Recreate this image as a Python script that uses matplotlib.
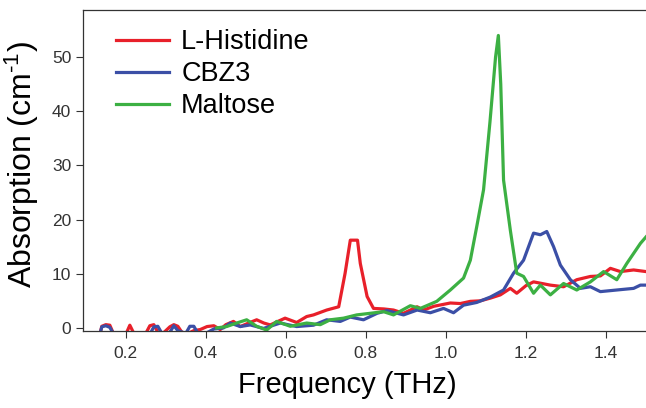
import matplotlib.pyplot as plt

plt.rcParams['font.family'] = ['Liberation Sans', 'DejaVu Sans']
plt.rcParams['mathtext.fontset'] = 'custom'
plt.rcParams['mathtext.rm'] = 'Liberation Sans'
plt.rcParams['mathtext.it'] = 'Liberation Sans:italic'

# L-Histidine
freq_his = [0.135, 0.14, 0.15, 0.16, 0.17, 0.18, 0.2, 0.21, 0.22, 0.23, 0.25, 0.26, 0.27,
            0.28, 0.29, 0.31, 0.32, 0.33, 0.34, 0.35, 0.37, 0.386, 0.403, 0.42, 0.436,
            0.45, 0.469, 0.486, 0.51, 0.527, 0.545, 0.561, 0.58, 0.598, 0.627, 0.652,
            0.669, 0.702, 0.732, 0.748, 0.761, 0.779, 0.786, 0.803, 0.819, 0.845, 0.869,
            0.894, 0.928, 0.944, 0.97, 1.011, 1.036, 1.061, 1.086, 1.111, 1.136, 1.161,
            1.177, 1.2, 1.219, 1.24, 1.261, 1.294, 1.327, 1.361, 1.386, 1.411, 1.436,
            1.469, 1.5]
abs_his = [-1.2, 0.3, 0.6, 0.5, -1.2, -1.5, -1.2, 0.5, -1.0, -1.5, -1.0, 0.4, 0.6, -0.8,
           -1.2, 0.2, 0.6, 0.3, -0.8, -1.2, -0.5, -0.3, 0.25, 0.4, -0.3, 0.6, 1.2, 0.25,
           1.0, 1.5, 0.9, 0.55, 1.2, 1.8, 1.0, 2.1, 2.4, 3.3, 3.9, 10.1, 16.2, 16.2, 11.9,
           5.8, 3.6, 3.5, 3.3, 2.7, 3.9, 3.3, 4.0, 4.6, 4.5, 4.9, 5.0, 5.5, 6.1, 7.3, 6.4,
           7.8, 8.5, 8.2, 7.9, 7.6, 8.9, 9.5, 9.6, 11.0, 10.4, 10.7, 10.4]

# CBZ3
freq_cbz = [0.135, 0.14, 0.15, 0.16, 0.17, 0.26, 0.27, 0.28, 0.29, 0.3, 0.31, 0.32,
            0.33, 0.35, 0.36, 0.37, 0.38, 0.4, 0.42, 0.444, 0.461, 0.486, 0.511, 0.544,
            0.586, 0.627, 0.669, 0.702, 0.736, 0.761, 0.794, 0.828, 0.853, 0.894, 0.928,
            0.961, 0.994, 1.019, 1.044, 1.077, 1.111, 1.144, 1.169, 1.194, 1.219, 1.236,
            1.252, 1.269, 1.286, 1.311, 1.336, 1.361, 1.386, 1.427, 1.469, 1.486, 1.5]
abs_cbz = [-1.2, 0.2, 0.4, 0.1, -1.2, -1.2, 0.2, 0.3, -1.0, -1.2, -0.8, 0.4, -0.5,
           -1.0, 0.3, 0.3, -1.0, -1.0, -0.2, 0.0, 0.9, 0.25, 0.55, -0.1, 0.9, 0.25, 0.5,
           1.5, 1.2, 2.0, 1.5, 2.7, 3.2, 2.4, 3.3, 2.8, 3.6, 2.8, 4.2, 4.7, 5.7, 7.0, 10.1,
           12.5, 17.5, 17.2, 17.8, 15.0, 11.6, 8.9, 7.3, 7.6, 6.7, 7.0, 7.3, 7.9, 7.9]

# Maltose
freq_mal = [0.427, 0.452, 0.477, 0.502, 0.527, 0.552, 0.577, 0.611, 0.652, 0.686, 0.711,
            0.744, 0.777, 0.811, 0.844, 0.869, 0.911, 0.936, 0.977, 1.011, 1.044, 1.061,
            1.077, 1.094, 1.11, 1.124, 1.131, 1.137, 1.144, 1.161, 1.177, 1.194, 1.219,
            1.236, 1.261, 1.294, 1.327, 1.361, 1.394, 1.427, 1.452, 1.486, 1.5]
abs_mal = [0.0, 0.25, 0.9, 1.5, 0.3, -0.4, 1.2, 0.3, 0.9, 0.6, 1.5, 1.8, 2.4, 2.7, 3.0,
           2.4, 4.1, 3.6, 4.9, 7.0, 9.2, 12.5, 18.7, 25.5, 38.0, 50.0, 54.0, 45.0, 27.3,
           18.0, 10.1, 9.5, 6.4, 7.9, 6.1, 8.2, 7.0, 8.5, 10.4, 8.9, 11.9, 15.6, 16.8]

series = [
    (freq_his, abs_his, 'L-Histidine', '#e8202a'),
    (freq_cbz, abs_cbz, 'CBZ3', '#3b4fa6'),
    (freq_mal, abs_mal, 'Maltose', '#3cb043'),
]

fig = plt.figure(figsize=(6.46, 4.08), dpi=100)
ax = fig.add_axes([0.1285, 0.189, 0.8715, 0.7865])

for x, y, name, color in series:
    ax.plot(x, y, color=color, lw=2.3, label=name)

ax.set_xlim(0.093, 1.5)
ax.set_ylim(-0.55, 58.7)
ax.set_xticks([0.2, 0.4, 0.6, 0.8, 1.0, 1.2, 1.4])
ax.set_yticks([0, 10, 20, 30, 40, 50])
ax.tick_params(direction='out', length=5, width=0.8, colors='#333333',
               labelsize=12.5, labelcolor='#333333')
ax.tick_params(axis='x', pad=6)
for side in ['left', 'bottom', 'top']:
    ax.spines[side].set_color('#333333')
    ax.spines[side].set_linewidth(0.9)
ax.spines['right'].set_visible(False)

ax.set_xlabel('Frequency (THz)', fontsize=21)
ax.xaxis.set_label_coords(0.47, -0.125)
ax.set_ylabel(r'Absorption (cm$^{\text{-1}}$)', fontsize=23)
ax.yaxis.set_label_coords(-0.074, 0.52)

ax.legend(loc='upper left', bbox_to_anchor=(0.03, 0.99), frameon=False,
          fontsize=19.5, handlelength=1.95, handletextpad=0.45, labelspacing=0.22,
          borderaxespad=0.2)

fig.savefig('out.png', dpi=100)
